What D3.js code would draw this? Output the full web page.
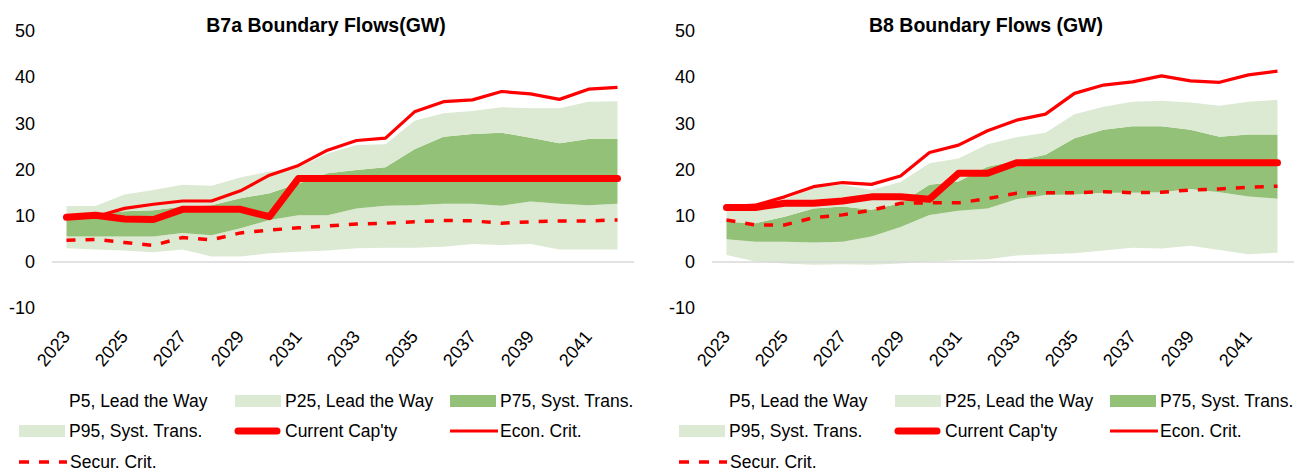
<!DOCTYPE html>
<html>
<head>
<meta charset="utf-8">
<script src="https://cdn.jsdelivr.net/npm/d3@7"></script>
<style>
  body { margin: 0; background: #fff; }
  svg { display: block; }
</style>
</head>
<body>
<svg id="chart" width="1301" height="475"></svg>
<script>
// categories
const years = ["2023", "2024", "2025", "2026", "2027", "2028", "2029", "2030", "2031", "2032",
  "2033", "2034", "2035", "2036", "2037", "2038", "2039", "2040", "2041", "2042"];
const yearLabels = ["2023", "2025", "2027", "2029", "2031", "2033", "2035", "2037", "2039", "2041"];
const yTicks = [-10, 0, 10, 20, 30, 40, 50];

// B7a boundary (GW)
const b7aP5 = [3.0, 2.7, 2.5, 2.1, 2.7, 1.2, 1.2, 1.9, 2.2, 2.5, 3.0, 3.1, 3.1, 3.3, 3.9, 3.7, 3.9, 2.7, 2.7, 2.7];
const b7aP25 = [5.5, 5.5, 5.5, 5.5, 6.3, 5.8, 7.3, 9.1, 10.1, 10.1, 11.6, 12.2, 12.3, 12.6, 12.6, 12.2, 13.1, 12.6, 12.3, 12.6];
const b7aP75 = [10.3, 10.3, 11.0, 11.2, 12.0, 12.3, 13.8, 14.9, 17.0, 19.2, 19.9, 20.5, 24.4, 27.1, 27.7, 28.0, 26.9, 25.7, 26.6, 26.6];
const b7aP95 = [12.1, 12.1, 14.6, 15.6, 16.7, 16.5, 18.3, 19.6, 20.5, 23.5, 25.3, 25.5, 30.6, 32.2, 32.7, 33.5, 33.3, 33.3, 34.7, 34.8];
const b7aCurrent = [9.7, 10.1, 9.3, 9.2, 11.4, 11.4, 11.4, 9.8, 18.1, 18.1, 18.1, 18.1, 18.1, 18.1, 18.1, 18.1, 18.1, 18.1, 18.1, 18.1];
const b7aEcon = [9.5, 9.8, 11.6, 12.5, 13.2, 13.2, 15.4, 18.8, 20.9, 24.2, 26.3, 26.8, 32.5, 34.7, 35.1, 36.9, 36.4, 35.2, 37.4, 37.8];
const b7aSecur = [4.7, 4.9, 4.2, 3.6, 5.3, 4.8, 6.3, 6.9, 7.4, 7.8, 8.2, 8.4, 8.7, 9.0, 8.9, 8.4, 8.7, 8.9, 8.9, 9.1];

// B8 boundary (GW)
const b8P5 = [1.5, 0.1, -0.3, -0.6, -0.5, -0.6, -0.3, 0.1, 0.4, 0.6, 1.4, 1.7, 1.9, 2.5, 3.1, 2.9, 3.5, 2.6, 1.7, 2.0];
const b8P25 = [4.9, 4.4, 4.4, 4.2, 4.4, 5.5, 7.6, 10.2, 11.1, 11.6, 13.6, 14.5, 14.6, 15.0, 15.0, 15.1, 15.8, 15.1, 14.2, 13.7];
const b8P75 = [8.7, 8.4, 9.8, 11.6, 12.0, 11.3, 12.7, 16.7, 17.4, 20.6, 21.9, 23.2, 26.8, 28.6, 29.4, 29.4, 28.6, 27.1, 27.6, 27.6];
const b8P95 = [12.3, 12.4, 13.5, 16.2, 16.7, 15.6, 17.3, 21.4, 22.4, 25.5, 27.0, 28.0, 32.0, 33.6, 34.7, 34.9, 34.5, 33.8, 34.7, 35.1];
const b8Current = [11.8, 11.8, 12.7, 12.7, 13.2, 14.1, 14.1, 13.6, 19.2, 19.2, 21.5, 21.5, 21.5, 21.5, 21.5, 21.5, 21.5, 21.5, 21.5, 21.5];
const b8Econ = [12.0, 12.3, 14.1, 16.3, 17.2, 16.8, 18.6, 23.7, 25.3, 28.4, 30.7, 32.0, 36.5, 38.3, 39.0, 40.3, 39.2, 38.9, 40.5, 41.3];
const b8Secur = [9.1, 8.0, 8.0, 9.6, 10.2, 11.2, 12.7, 12.8, 12.8, 13.7, 14.9, 15.0, 15.0, 15.2, 15.0, 15.1, 15.6, 15.8, 16.2, 16.4];

const legendLabels = ["P5, Lead the Way", "P25, Lead the Way", "P75, Syst. Trans.",
  "P95, Syst. Trans.", "Current Cap'ty", "Econ. Crit.", "Secur. Crit."];

const colors = {
  light: "#dce9d3",
  dark: "#94c178",
  red: "#ff0000",
  axis: "#d9d9d9",
};
const font = "'Liberation Sans', Arial, sans-serif";

const svg = d3.select("#chart");

function drawChart(offsetX, title, s) {
  const g = svg.append("g").attr("transform", `translate(${offsetX},0)`);

  const x = d3.scalePoint().domain(years).range([52, 632]).padding(0.5);
  const y = d3.scaleLinear().domain([-10, 50]).range([308.2, 31]);

  // title
  g.append("text")
    .attr("x", 326)
    .attr("y", 32)
    .attr("text-anchor", "middle")
    .style("font-family", font)
    .style("font-weight", "bold")
    .style("font-size", "19.5px")
    .text(title);

  // y tick labels (no axis line), plain hyphen for negatives
  const yAxis = d3.axisLeft(y).tickValues(yTicks).tickSize(0).tickPadding(0)
    .tickFormat((d) => String(d));
  const ya = g.append("g").attr("transform", "translate(35,0)").call(yAxis);
  ya.select(".domain").remove();
  ya.selectAll("text")
    .style("font-family", font)
    .style("font-size", "18px")
    .attr("fill", "#000");

  // bands between percentiles
  const band = (lo, hi) =>
    d3.area()
      .x((d, i) => x(years[i]))
      .y0((d, i) => y(lo[i]))
      .y1((d, i) => y(hi[i]));

  g.append("path").datum(years).attr("d", band(s.p5, s.p25)).attr("fill", colors.light);
  g.append("path").datum(years).attr("d", band(s.p25, s.p75)).attr("fill", colors.dark);
  g.append("path").datum(years).attr("d", band(s.p75, s.p95)).attr("fill", colors.light);

  // zero axis line
  g.append("line")
    .attr("x1", 52).attr("x2", 634)
    .attr("y1", y(0)).attr("y2", y(0))
    .attr("stroke", colors.axis)
    .attr("stroke-width", 1.5);

  const line = d3.line().x((d, i) => x(years[i])).y((d) => y(d));

  g.append("path").datum(s.current)
    .attr("d", line)
    .attr("fill", "none")
    .attr("stroke", colors.red)
    .attr("stroke-width", 7)
    .attr("stroke-linejoin", "round")
    .attr("stroke-linecap", "round");

  g.append("path").datum(s.econ)
    .attr("d", line)
    .attr("fill", "none")
    .attr("stroke", colors.red)
    .attr("stroke-width", 3.2)
    .attr("stroke-linejoin", "round");

  g.append("path").datum(s.secur)
    .attr("d", line)
    .attr("fill", "none")
    .attr("stroke", colors.red)
    .attr("stroke-width", 3.5)
    .attr("stroke-dasharray", "9 10");

  // category labels, every second year
  const xAxis = d3.axisBottom(x).tickValues(yearLabels).tickSize(0).tickPadding(0);
  const xa = g.append("g").call(xAxis);
  xa.select(".domain").remove();
  xa.selectAll(".tick").attr("transform", (d) => `translate(${x(d) + 4.5},337)`);
  xa.selectAll("text")
    .attr("y", 0)
    .attr("dy", 0)
    .attr("text-anchor", "end")
    .attr("transform", "rotate(-50)")
    .style("font-family", font)
    .style("font-size", "18px")
    .attr("fill", "#000");

  // legend: 3 per row
  const colX = [19, 235, 450];
  const rowY = [401, 431, 462];
  const kinds = ["none", "light", "dark", "light", "thick", "thin", "dash"];

  legendLabels.forEach((label, i) => {
    const cx = colX[i % 3];
    const cy = rowY[Math.floor(i / 3)];
    const item = g.append("g").attr("transform", `translate(${cx},${cy})`);
    const k = kinds[i];
    if (k === "light" || k === "dark") {
      item.append("rect")
        .attr("x", 0).attr("y", -6)
        .attr("width", 46).attr("height", 12)
        .attr("fill", colors[k]);
    } else if (k === "thick") {
      item.append("line")
        .attr("x1", 3).attr("x2", 42)
        .attr("stroke", colors.red)
        .attr("stroke-width", 7)
        .attr("stroke-linecap", "round");
    } else if (k === "thin") {
      item.append("line")
        .attr("x1", 0).attr("x2", 48)
        .attr("stroke", colors.red)
        .attr("stroke-width", 3);
    } else if (k === "dash") {
      item.append("line")
        .attr("x1", 0).attr("x2", 48)
        .attr("stroke", colors.red)
        .attr("stroke-width", 3.5)
        .attr("stroke-dasharray", "10 10");
    }
    item.append("text")
      .attr("x", k === "dash" ? 51 : 50)
      .attr("y", 6)
      .style("font-family", font)
      .style("font-size", "17.5px")
      .attr("fill", "#000")
      .text(label);
  });
}

drawChart(0, "B7a Boundary Flows(GW)", {
  p5: b7aP5, p25: b7aP25, p75: b7aP75, p95: b7aP95,
  current: b7aCurrent, econ: b7aEcon, secur: b7aSecur,
});

drawChart(660, "B8 Boundary Flows (GW)", {
  p5: b8P5, p25: b8P25, p75: b8P75, p95: b8P95,
  current: b8Current, econ: b8Econ, secur: b8Secur,
});
</script>
</body>
</html>
